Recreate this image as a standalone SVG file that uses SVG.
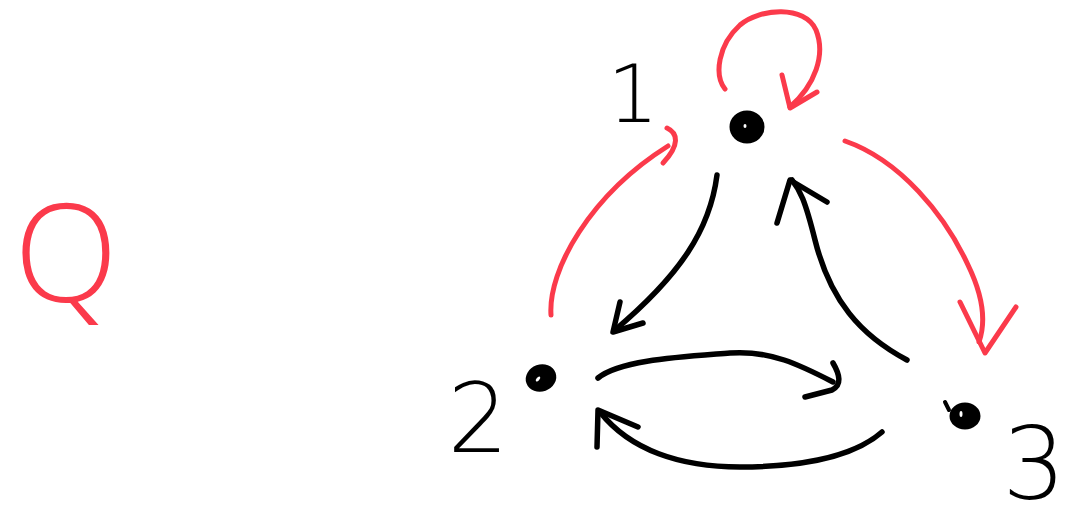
<svg xmlns="http://www.w3.org/2000/svg" width="1069" height="523" viewBox="0 0 1069 523">
<style>
.red{fill:none;stroke:#fb3a4b;stroke-width:5;stroke-linecap:round;stroke-linejoin:round}
.blk{fill:none;stroke:#000;stroke-width:5.5;stroke-linecap:round;stroke-linejoin:round}
.dot{fill:#000;stroke:#000;stroke-width:3}
.hl{fill:#fff}
.lbl{font-family:"DejaVu Sans",sans-serif;font-weight:200;fill:#000;text-anchor:middle}
.q{font-family:"Open Sans","DejaVu Sans",sans-serif;font-weight:300;fill:#fb3a4b;text-anchor:middle}
</style>
<rect width="1069" height="523" fill="#fff"/>
<g id="title">
<text class="q" x="66" y="302" font-size="136">Q</text>
</g>
<g id="node-1">
<ellipse class="dot" cx="747" cy="127" rx="16" ry="15"/>
<ellipse class="hl" cx="745" cy="126" rx="1.5" ry="2"/>
<text class="lbl" x="633" y="122" font-size="81">1</text>
</g>
<g id="node-2">
<ellipse class="dot" cx="541" cy="378" rx="14" ry="12" transform="rotate(-20 541 378)"/>
<ellipse class="hl" cx="538" cy="379" rx="1.5" ry="3" transform="rotate(40 538 379)"/>
<text class="lbl" x="478" y="452" font-size="96">2</text>
</g>
<g id="node-3">
<ellipse class="dot" cx="965" cy="416" rx="14" ry="12"/>
<ellipse class="hl" cx="961" cy="414" rx="1.5" ry="3"/>
<path class="blk" d="M945 402 L949 410" style="stroke-width:4"/>
<text class="lbl" x="1034" y="499" font-size="100">3</text>
</g>
<g id="connectors">
<path class="red" d="M725 89 C714 75 718 45 740 25 C760 8 805 5 816 30 C826 55 815 85 790 107"/>
<path class="red" d="M782 75 L790 108 L817 92"/>
<path class="red" d="M551 315 C548 270 590 195 668 146"/>
<path class="red" d="M667 128 C678 133 680 145 663 163"/>
<path class="red" d="M845 141 C900 160 945 215 968 265 C985 300 985 325 979 342"/>
<path class="red" d="M960 302 L985 353 L1016 307"/>
<path class="blk" d="M717 175 C710 230 680 275 615 330"/>
<path class="blk" d="M620 302 L613 332 L643 323"/>
<path class="blk" d="M907 360 C860 335 830 300 815 240 C805 200 800 190 792 180"/>
<path class="blk" d="M777 223 L790 180 L827 202"/>
<path class="blk" d="M598 378 C620 360 680 357 730 353 C770 350 800 365 833 382"/>
<path class="blk" d="M833 363 C840 375 842 385 832 390 L805 397"/>
<path class="blk" d="M882 432 C850 460 790 467 740 467 C680 467 630 450 600 412"/>
<path class="blk" d="M597 447 L598 410 L638 427"/>
</g>
</svg>
